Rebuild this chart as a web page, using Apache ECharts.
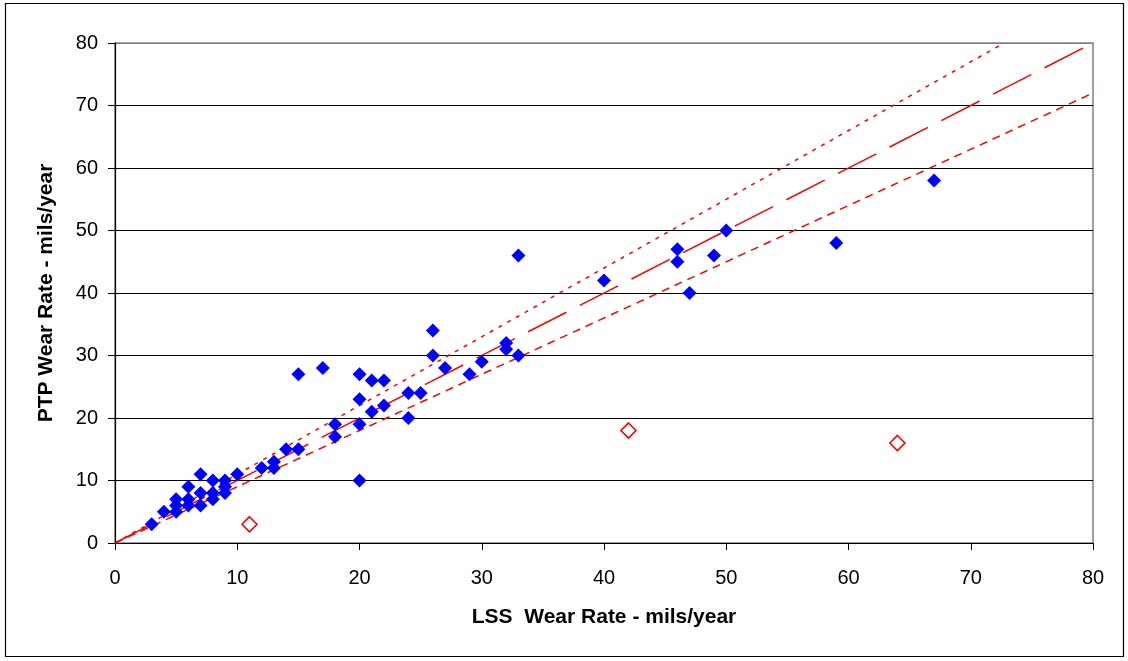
<!DOCTYPE html>
<html>
<head>
<meta charset="utf-8">
<title>PTP vs LSS Wear Rate</title>
<script src="https://cdn.jsdelivr.net/npm/echarts@6/dist/echarts.min.js"></script>
<style>
  html, body { margin: 0; padding: 0; background: #fff; }
  #chart { width: 1128px; height: 661px; }
</style>
</head>
<body>
<div id="chart"></div>
<script>
// Axis ranges and ticks (mils/year)
const xTicks = [0, 10, 20, 30, 40, 50, 60, 70, 80];
const yTicks = [0, 10, 20, 30, 40, 50, 60, 70, 80];

// Measured wear rates: [LSS, PTP]
const wearPoints = [
  [3, 3], [4, 5], [5, 5], [5, 6], [5, 7], [6, 6], [6, 7], [6, 9],
  [7, 6], [7, 8], [7, 11], [8, 7], [8, 8], [8, 10], [9, 8], [9, 9],
  [9, 10], [10, 11], [12, 12], [13, 12], [13, 13], [14, 15], [15, 15],
  [15, 27], [17, 28], [18, 17], [18, 19], [20, 10], [20, 19], [20, 23],
  [20, 27], [21, 21], [21, 26], [22, 22], [22, 26], [24, 20], [24, 24],
  [25, 24], [26, 30], [26, 34], [27, 28], [29, 27], [30, 29], [32, 31],
  [32, 32], [33, 30], [33, 46], [40, 42], [46, 45], [46, 47], [47, 40],
  [49, 46], [50, 50], [59, 48], [67, 58]
];

// Outlying measurements
const outlierPoints = [[11, 3], [42, 18], [64, 16]];

// Reference lines: PTP = 1.1 x LSS, PTP = LSS, PTP = 0.9 x LSS
const linePlus10 = [[0, 0], [72.73, 80]];
const lineEqual = [[0, 0], [80, 80]];
const lineMinus10 = [[0, 0], [80, 72]];

const chart = echarts.init(document.getElementById('chart'), null, { renderer: 'canvas' });

const FONT = '"Liberation Sans", Arial, sans-serif';

const gridColors = yTicks.map((v, i) => (i === yTicks.length - 1 ? '#808080' : '#000000'));

const refLine = (data, dash) => ({
  type: 'line',
  data: data,
  symbol: 'none',
  silent: true,
  animation: false,
  z: 1,
  lineStyle: { color: '#ff0000', width: 1.5, type: dash }
});

chart.setOption({
  animation: false,
  backgroundColor: '#ffffff',
  grid: {
    left: 115, right: 35, top: 43, bottom: 118,
    show: true, borderColor: '#808080', borderWidth: 1.5, backgroundColor: 'transparent'
  },
  xAxis: {
    type: 'value',
    min: 0, max: 80, interval: 10,
    name: 'LSS  Wear Rate - mils/year',
    nameLocation: 'middle',
    nameGap: 64,
    nameTextStyle: { fontFamily: FONT, fontSize: 21, fontWeight: 'bold', color: '#000' },
    axisLine: { show: true, onZero: false, lineStyle: { color: '#000', width: 1.2 } },
    axisTick: { show: true, inside: false, length: 7, lineStyle: { color: '#000' } },
    axisLabel: { fontFamily: FONT, fontSize: 20, color: '#000', margin: 25,
      formatter: v => (xTicks.includes(v) ? String(v) : '') },
    splitLine: { show: false }
  },
  yAxis: {
    type: 'value',
    min: 0, max: 80, interval: 10,
    name: 'PTP Wear Rate - mils/year',
    nameLocation: 'middle',
    nameGap: 58,
    nameTextStyle: { fontFamily: FONT, fontSize: 21, fontWeight: 'bold', color: '#000' },
    axisLine: { show: true, onZero: false, lineStyle: { color: '#000', width: 1.2 } },
    axisTick: { show: true, inside: false, length: 7, lineStyle: { color: '#000' } },
    axisLabel: { fontFamily: FONT, fontSize: 20, color: '#000', margin: 17,
      formatter: v => (yTicks.includes(v) ? String(v) : '') },
    splitLine: { show: true, lineStyle: { color: gridColors, width: 1.2 } }
  },
  graphic: [{
    type: 'rect',
    shape: { x: 5.5, y: 3.5, width: 1118, height: 653 },
    style: { fill: 'none', stroke: '#000', lineWidth: 1.2 },
    silent: true,
    z: -10
  }],
  series: [
    refLine(linePlus10, [4, 6]),
    refLine(lineEqual, [43, 15]),
    refLine(lineMinus10, [8, 6]),
    {
      type: 'scatter',
      data: wearPoints,
      symbol: 'diamond',
      symbolSize: 14,
      itemStyle: { color: '#0000ff', opacity: 1 },
      z: 3
    },
    {
      type: 'scatter',
      data: outlierPoints,
      symbol: 'diamond',
      symbolSize: 15,
      itemStyle: { color: '#ffffff', borderColor: '#ff0000', borderWidth: 1.6, opacity: 1 },
      z: 3
    }
  ]
});
</script>
</body>
</html>
